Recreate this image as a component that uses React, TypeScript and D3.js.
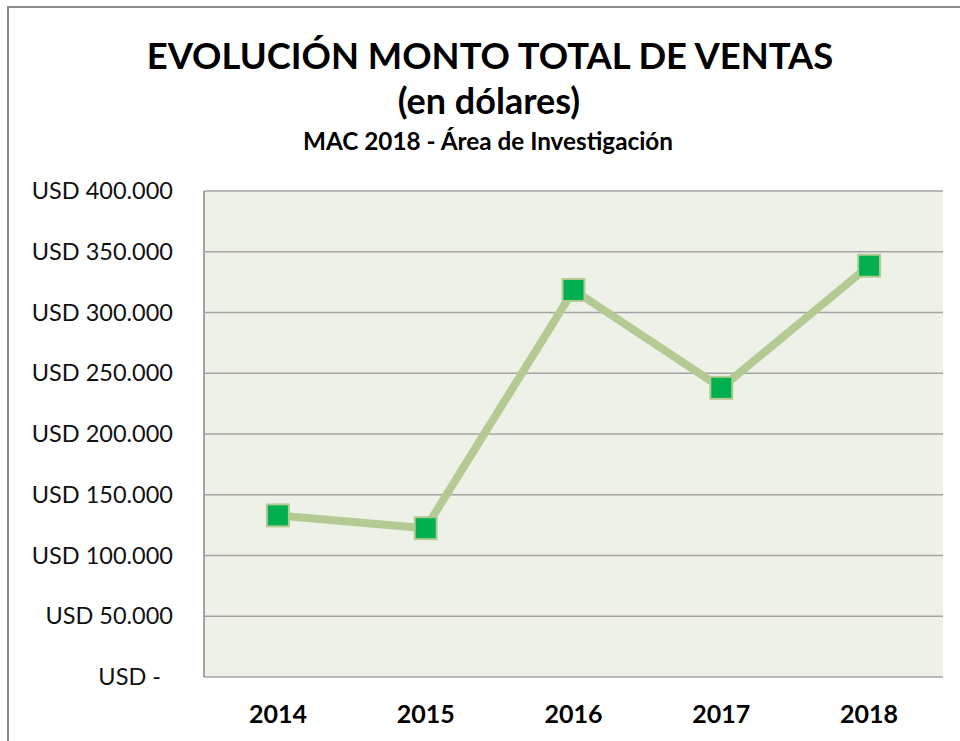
import React from 'react';
import * as d3 from 'd3';

// datos
const years = ['2014', '2015', '2016', '2017', '2018'];
const ventas = [133000, 122500, 318500, 238000, 338500];
const yTicks = [0, 50000, 100000, 150000, 200000, 250000, 300000, 350000, 400000];
const yTickLabels = ['USD -', 'USD 50.000', 'USD 100.000', 'USD 150.000', 'USD 200.000', 'USD 250.000', 'USD 300.000', 'USD 350.000', 'USD 400.000'];

const W = 960;
const H = 741;
const margin = { top: 191, right: 17, bottom: 64, left: 204 };
const plotW = W - margin.left - margin.right;
const plotH = H - margin.top - margin.bottom;
const font = 'Lato, sans-serif';

const App = () => {
    const x = d3.scaleBand().domain(years).range([0, plotW]);
    const y = d3.scaleLinear().domain([0, 400000]).range([plotH, 0]);

    const line = d3.line<number>()
        .x((d, i) => x(years[i])! + x.bandwidth() / 2)
        .y(d => y(d));

    const mk = 22;

    return (
        <svg width={W} height={H} style={{ position: 'absolute', left: 0, top: 0, background: '#fff' }}>
            {/* marco exterior */}
            <rect x={8} y={7} width={W} height={H} fill="#fff" stroke="#8c8c8c" strokeWidth={2} />

            <text x={490} y={69} textAnchor="middle" fontFamily={font} fontWeight="bold" fontSize={36.4} fill="#000">
                EVOLUCIÓN MONTO TOTAL DE VENTAS
            </text>
            <text x={489} y={114} textAnchor="middle" fontFamily={font} fontWeight="bold" fontSize={36} fill="#000">
                (en dólares)
            </text>
            <text x={488} y={150} textAnchor="middle" fontFamily={font} fontWeight="bold" fontSize={24.3} fill="#000">
                MAC 2018 - Área de Investigación
            </text>

            <g transform={`translate(${margin.left},${margin.top})`}>
                <rect x={0} y={0} width={plotW} height={plotH} fill="#eef1e8" />
                {yTicks.map(t => (
                    <line key={t} x1={0} x2={plotW} y1={y(t)} y2={y(t)} stroke="#a3a3a3" strokeWidth={1.5} />
                ))}
                <line x1={0} x2={0} y1={0} y2={plotH} stroke="#a3a3a3" strokeWidth={2} />

                {yTicks.map((t, i) => (
                    <text key={t} x={t === 0 ? -43 : -31} y={y(t)} dy="0.35em" textAnchor="end"
                        fontFamily={font} fontSize={23.5} fill="#111">
                        {yTickLabels[i]}
                    </text>
                ))}

                {years.map(yr => (
                    <text key={yr} x={x(yr)! + x.bandwidth() / 2} y={plotH + 46} textAnchor="middle"
                        fontFamily={font} fontWeight="bold" fontSize={25} fill="#000">
                        {yr}
                    </text>
                ))}

                <path d={line(ventas)!} fill="none" stroke="#b3cb92" strokeWidth={8} strokeLinejoin="round" />

                {ventas.map((v, i) => (
                    <rect key={years[i]}
                        x={x(years[i])! + x.bandwidth() / 2 - mk / 2}
                        y={y(v) - mk / 2}
                        width={mk} height={mk}
                        fill="#00b050" stroke="#b3cb92" strokeWidth={2} />
                ))}
            </g>
        </svg>
    );
};

export default App;
